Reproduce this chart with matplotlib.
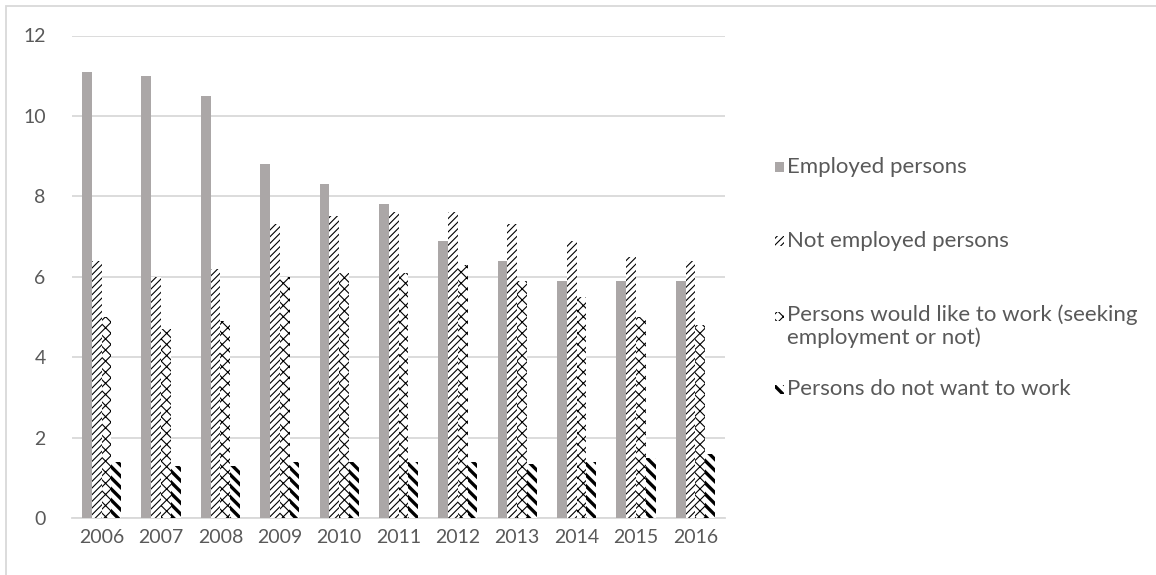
import matplotlib
matplotlib.use("Agg")
import matplotlib.pyplot as plt
from matplotlib.patches import Rectangle
import numpy as np

years = ["2006", "2007", "2008", "2009", "2010", "2011", "2012", "2013", "2014", "2015", "2016"]
employed = [11.1, 11.0, 10.5, 8.8, 8.3, 7.8, 6.9, 6.4, 5.9, 5.9, 5.9]
not_employed = [6.4, 6.0, 6.2, 7.3, 7.5, 7.6, 7.6, 7.3, 6.9, 6.5, 6.4]
would_like = [5.0, 4.7, 4.9, 6.0, 6.1, 6.1, 6.3, 5.9, 5.5, 5.0, 4.8]
do_not_want = [1.4, 1.3, 1.3, 1.4, 1.4, 1.4, 1.4, 1.35, 1.4, 1.5, 1.6]
labels = ["Employed persons", "Not employed persons",
          "Persons would like to work (seeking\nemployment or not)",
          "Persons do not want to work"]

plt.rcParams["font.family"] = ["Lato", "DejaVu Sans"]
plt.rcParams["hatch.linewidth"] = 0.8

W, H = 1156, 575
fig = plt.figure(figsize=(W / 100, H / 100), dpi=100)
ax = fig.add_axes([72 / W, 1 - 518 / H, (725 - 72) / W, (518 - 35.5) / H])

text_col = "#595959"
grid_col = "#d9d9d9"
gray = "#aba7a7"

styles = [
    dict(color=gray, hatch=None, lw_h=None),
    dict(color="white", hatch="/////", lw_h=0.8),
    dict(color="white", hatch="xxx", lw_h=0.8),
    dict(color="white", hatch="\\\\\\", lw_h=2.4),
]
series = [employed, not_employed, would_like, do_not_want]

x = np.arange(len(years))
bw = 0.165
offsets = (np.arange(4) - 1.5) * bw

for vals, off, st in zip(series, offsets, styles):
    if st["hatch"] is None:
        ax.bar(x + off, vals, width=bw, color=st["color"], linewidth=0, zorder=3)
    else:
        bars = ax.bar(x + off, vals, width=bw, facecolor="white", edgecolor="black",
                      hatch=st["hatch"], linewidth=0, zorder=3)
        for b in bars:
            if hasattr(b, "set_hatch_linewidth"):
                b.set_hatch_linewidth(st["lw_h"])

ax.set_xlim(-0.5, len(years) - 0.5)
ax.set_ylim(0, 12)
ax.set_yticks(np.arange(0, 13, 2))
ax.set_xticks(x)
ax.set_xticklabels(years)
ax.yaxis.grid(True, color=grid_col, linewidth=1.3, zorder=0)
ax.set_axisbelow(True)
for s in ["top", "right", "left"]:
    ax.spines[s].set_visible(False)
ax.spines["bottom"].set_color(grid_col)
ax.spines["bottom"].set_linewidth(1.3)
ax.tick_params(axis="both", length=0, labelcolor=text_col, labelsize=14)
ax.tick_params(axis="y", pad=19)
ax.tick_params(axis="x", pad=8)

# legend drawn by hand to keep the wide spacing between entries
leg_rows = [167, 241, 316, 389]
for lab, yy, st in zip(labels, leg_rows, styles):
    if st["hatch"] is None:
        r = Rectangle((775 / W, 1 - (yy + 4.5) / H), 9 / W, 9 / H, transform=fig.transFigure,
                      facecolor=st["color"], linewidth=0)
    else:
        r = Rectangle((775 / W, 1 - (yy + 4.5) / H), 9 / W, 9 / H, transform=fig.transFigure,
                      facecolor="white", edgecolor="black", hatch=st["hatch"], linewidth=0)
        if hasattr(r, "set_hatch_linewidth"):
            r.set_hatch_linewidth(st["lw_h"])
    fig.patches.append(r)
    if "\n" in lab:
        fig.text(787 / W, 1 - (yy - 12) / H, lab, color=text_col, fontsize=16,
                 va="top", linespacing=1.15)
    else:
        fig.text(787 / W, 1 - yy / H, lab, color=text_col, fontsize=16, va="center")

# outer chart border (top and left edges visible)
fig.patches.append(Rectangle((6 / W, -0.1), 1.2, 1.1 - 6 / H, transform=fig.transFigure,
                             facecolor="none", edgecolor=grid_col, linewidth=1.3))

fig.savefig("out.png", dpi=100)
